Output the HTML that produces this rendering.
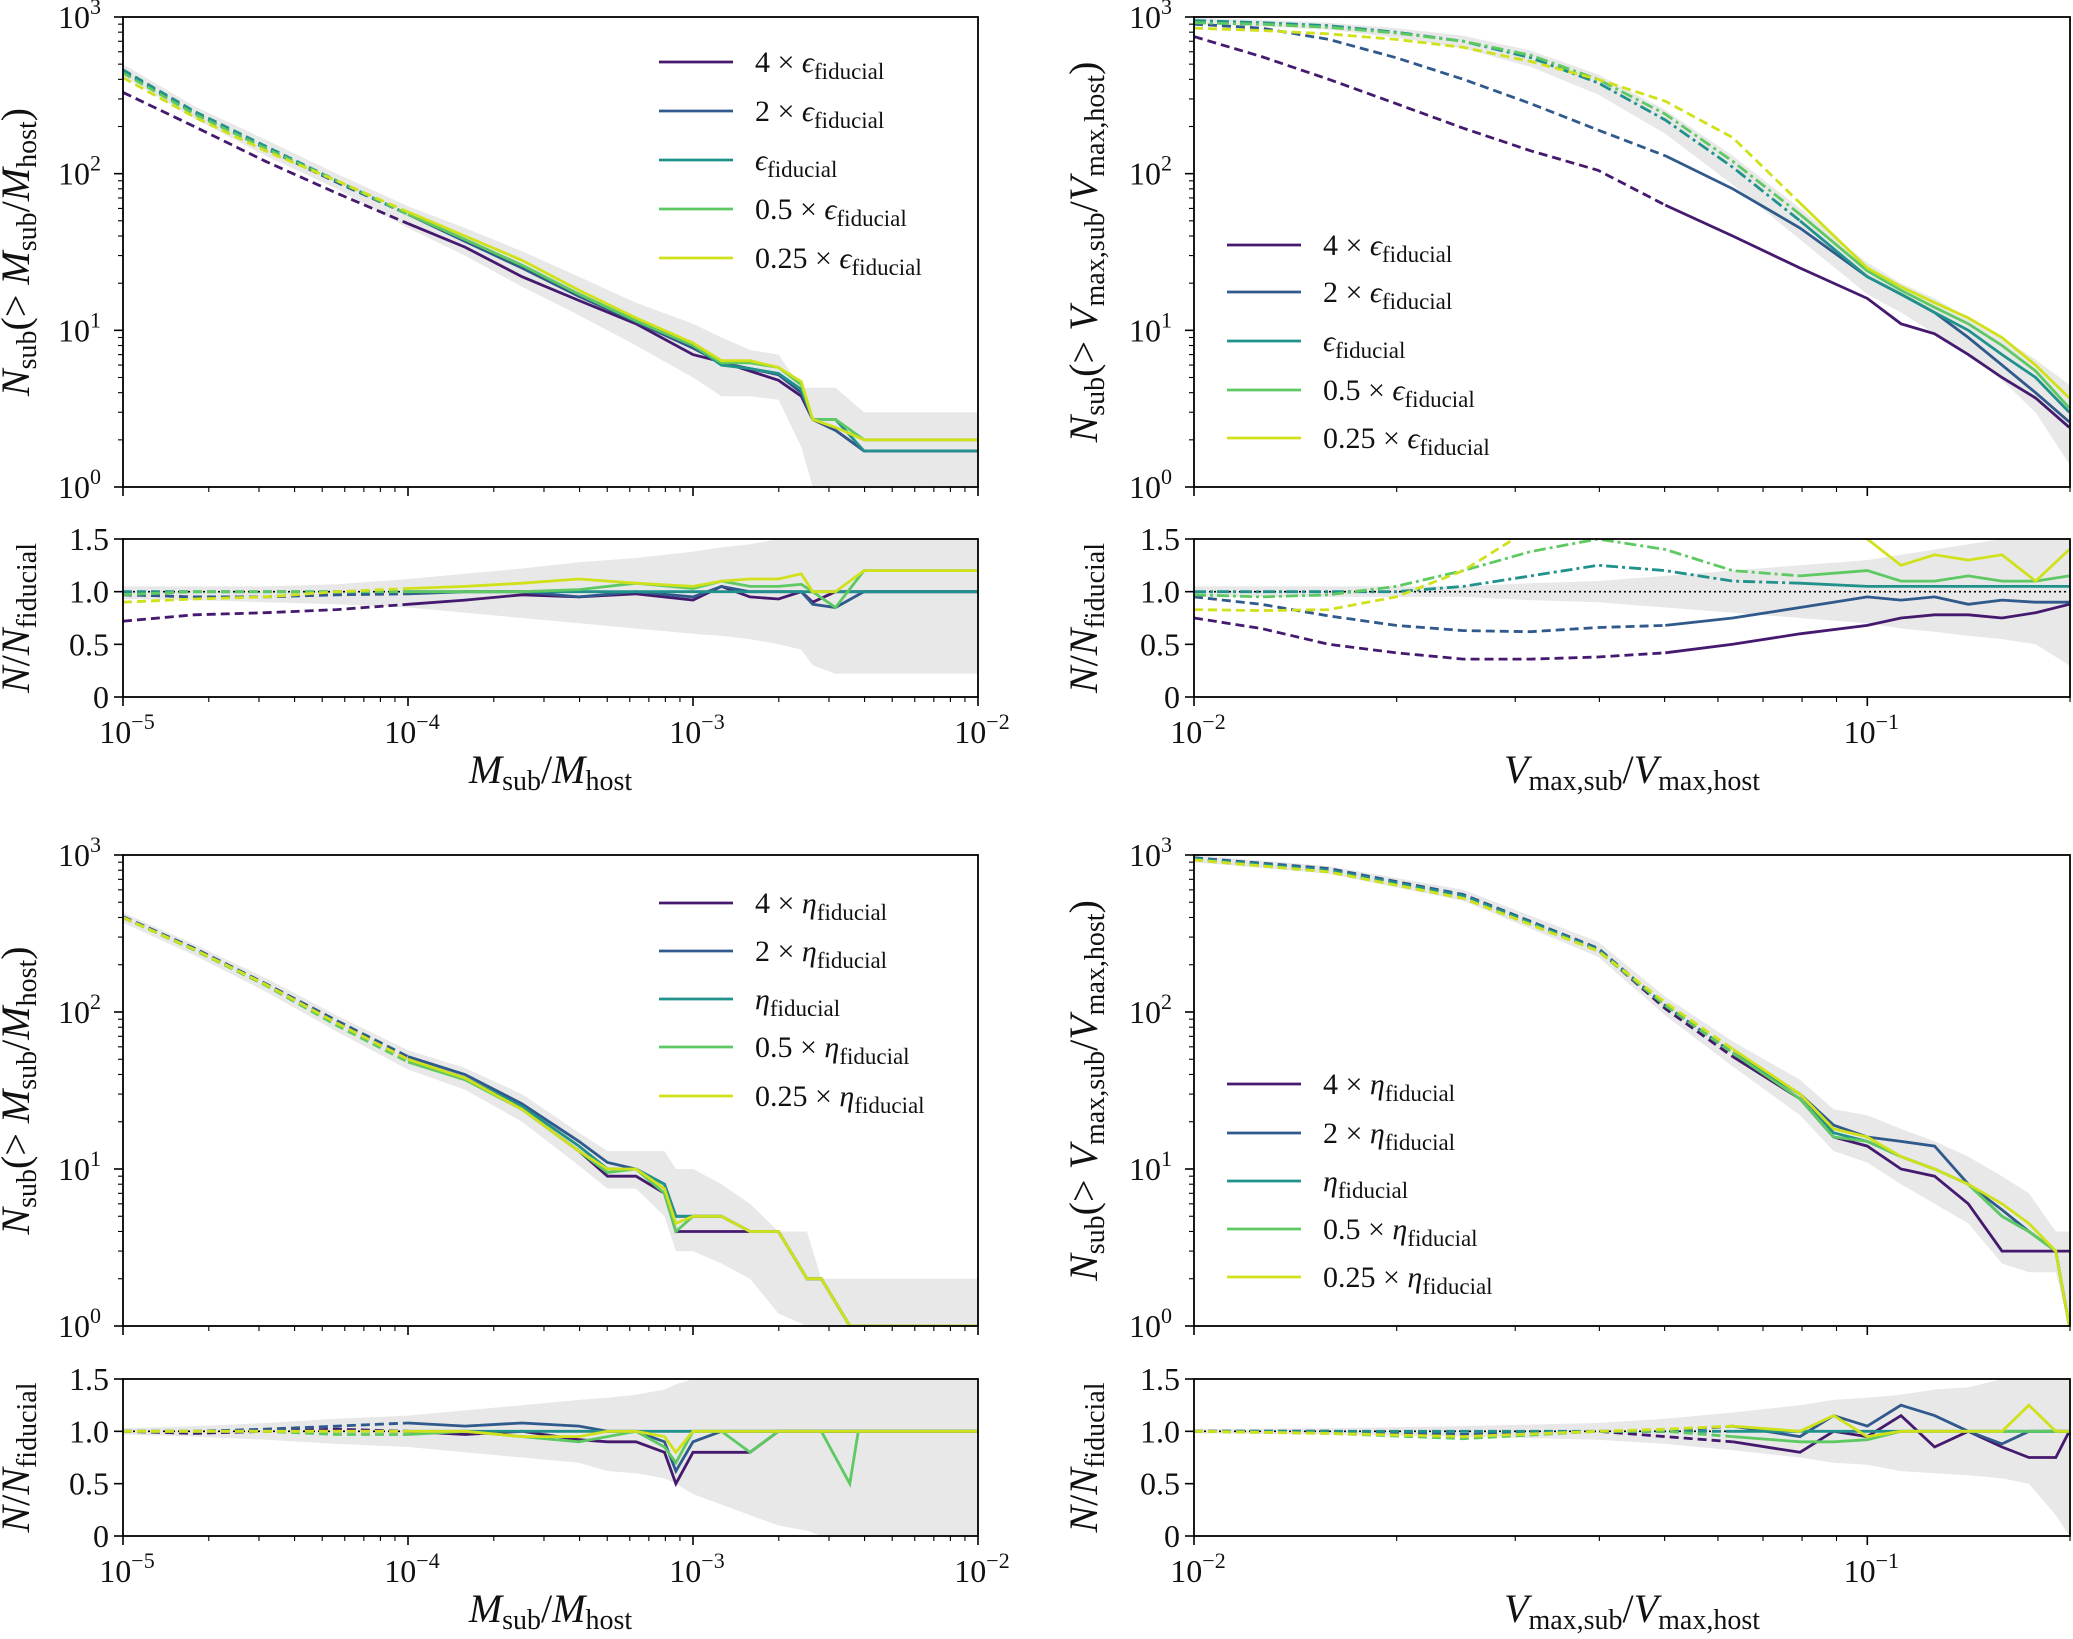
<!DOCTYPE html>
<html><head><meta charset="utf-8"><style>
body{margin:0;background:#fff}
svg{display:block}
text{font-family:"Liberation Serif",serif;fill:#111}
</style></head><body>
<svg id="fig" width="2073" height="1639" viewBox="0 0 2073 1639" xmlns="http://www.w3.org/2000/svg"></svg>
<script>
// ---------- data ----------
const colors = ['#45196e','#30598c','#21918c','#5ec962','#d0e11c'];
const labelsEps = ['4 × ','2 × ','','0.5 × ','0.25 × '];
// Top-left: N(>Msub/Mhost), log10 x
const tlX = [-5,-4.75,-4.5,-4.25,-4,-3.8,-3.6,-3.4,-3.2,-3.0,-2.9,-2.8,-2.7,-2.62,-2.58,-2.5,-2.4,-2.0];
const tl4 = [330,200,120,75,48,34,22,15.5,11,7,6.3,5.5,4.8,3.8,2.7,2.3,1.7,1.7];
const tl2 = [450,245,145,88,55,37,25,16.5,11.3,7.7,6.2,5.7,5.2,4,2.7,2.3,1.7,1.7];
const tlF = [460,250,150,90,55,38,26,17,11.5,8,6,5.7,5.3,4.2,2.7,2.7,1.7,1.7];
const tl05 = [440,240,145,90,55,38,26,17,11.5,8,6.2,6.2,5.8,4.5,2.7,2.7,2,2];
const tl025 = [410,230,140,90,57,40,28,18,12,8.3,6.4,6.4,5.8,4.7,2.7,2.4,2,2];
const tlBandHi = [500,270,165,100,62,45,32,22,15,11,9,7.5,7,4.3,4.3,4.3,3,3];
const tlBandLo = [420,225,130,80,45,30,19,12.5,8,5,3.8,3.8,3.6,1.8,1,0.5,0.5,0.5];
const tlR4 = [0.72,0.78,0.8,0.83,0.88,0.92,0.97,0.95,0.98,0.92,1.05,0.95,0.93,1,0.9,1,1,1];
const tlR2 = [0.97,0.95,0.95,0.97,0.98,1,1,0.95,1,0.95,1.05,1,1,1,0.88,0.85,1,1];
const tlRF = [1,1,1,1,1,1,1,1,1,1,1,1,1,1,1,1,1,1];
const tlR05 = [0.97,1,1,1,1,1,1,1.02,1.08,1.03,1.1,1.05,1.05,1.07,1,0.85,1.2,1.2];
const tlR025 = [0.9,0.93,0.95,1,1.03,1.05,1.08,1.12,1.08,1.05,1.1,1.12,1.12,1.17,1,1,1.2,1.2];
const tlRHi = [1.05,1.05,1.05,1.07,1.12,1.17,1.22,1.28,1.32,1.38,1.42,1.45,1.5,1.5,1.5,1.5,1.5,1.5];
const tlRLo = [0.93,0.92,0.9,0.88,0.85,0.8,0.75,0.7,0.65,0.6,0.58,0.55,0.5,0.45,0.3,0.22,0.22,0.22];
// Top-right: N(>Vmax ratio)
const trX = [-2,-1.9,-1.8,-1.7,-1.6,-1.5,-1.4,-1.3,-1.2,-1.1,-1.0,-0.95,-0.9,-0.85,-0.8,-0.75,-0.7];
const tr4 = [750,560,400,280,195,140,105,63,40,25,16,11,9.5,7,5,3.7,2.4];
const tr2 = [900,850,720,550,400,280,190,130,80,45,22,17,13,9,6,4,2.6];
const trF = [950,920,880,800,700,550,380,220,110,50,22,17,13,10,7,5,3];
const tr05 = [920,900,860,790,700,570,400,240,120,55,24,18,14,11,8,5.5,3.2];
const tr025 = [850,820,780,720,640,520,400,290,170,65,25,19,15,12,9,6,3.7];
const trBandHi = [990,960,920,850,760,610,430,255,130,60,27,20,16,12,9,6.5,4.5];
const trBandLo = [900,870,830,740,630,480,320,180,85,38,17,13,9.5,7,4.8,3,1.4];
const trR4 = [0.75,0.65,0.5,0.42,0.36,0.36,0.38,0.42,0.5,0.6,0.68,0.75,0.78,0.78,0.75,0.8,0.88];
const trR2 = [0.95,0.88,0.77,0.68,0.63,0.62,0.66,0.68,0.75,0.85,0.95,0.92,0.95,0.88,0.92,0.9,0.9];
const trRF = [1,1,1,1,1.05,1.15,1.25,1.2,1.1,1.08,1.05,1.05,1.05,1.05,1.05,1.05,1.05];
const trR05 = [0.97,0.95,0.97,1.05,1.2,1.38,1.5,1.4,1.2,1.15,1.2,1.1,1.1,1.15,1.1,1.1,1.15];
const trR025 = [0.83,0.82,0.83,0.95,1.2,1.6,1.8,1.9,1.8,1.7,1.5,1.25,1.35,1.3,1.35,1.1,1.4];
const trRHi = [1.05,1.05,1.05,1.05,1.05,1.08,1.1,1.15,1.2,1.25,1.3,1.35,1.4,1.45,1.5,1.5,1.5];
const trRLo = [0.95,0.95,0.95,0.95,0.95,0.92,0.9,0.85,0.8,0.75,0.7,0.65,0.62,0.58,0.55,0.5,0.3];
// Bottom-left
const blX = [-5,-4.75,-4.5,-4.25,-4,-3.8,-3.6,-3.4,-3.3,-3.2,-3.1,-3.06,-3.0,-2.9,-2.8,-2.7,-2.6,-2.55,-2.45,-2.42,-2.0];
const bl4 = [400,250,150,85,50,38,24,13,9,9,7,4,4,4,4,4,2,2,1,1,1];
const bl2 = [405,255,152,88,52,40,26,15,11,10,8,5,5,5,4,4,2,2,1,1,1];
const blF = [400,250,150,85,50,38,25,14,10,10,8,5,5,5,4,4,2,2,1,1,1];
const bl05 = [400,248,148,82,48,37,24,13,9.5,10,7,4,5,5,4,4,2,2,1,1,1];
const bl025 = [400,250,150,85,50,38,24,13,10,10,7.5,4.5,5,5,4,4,2,2,1,1,1];
const blBandHi = [430,270,165,95,57,44,30,17,13,13,13,10,10,8,6,4,4,2,2,2,2];
const blBandLo = [370,230,135,75,43,32,20,10.5,7.5,7.5,5,3,3,2.5,2,1.2,1,1,1,1,1];
const blR4 = [1,0.98,1,1.02,1,0.97,1,0.92,0.9,0.9,0.8,0.5,0.8,0.8,0.8,1,1,1,1,1,1];
const blR2 = [1,1,1.02,1.05,1.08,1.05,1.08,1.05,1,1,0.9,0.62,0.9,1,1,1,1,1,1,1,1];
const blRF = [1,1,1,1,1,1,1,1,1,1,1,1,1,1,1,1,1,1,1,1,1];
const blR05 = [1,1,1,0.97,0.97,1,0.95,0.9,0.95,1,0.85,0.7,1,1,0.8,1,1,1,0.5,1,1];
const blR025 = [1,1,1,1,1,1,0.95,0.95,1,1,0.95,0.8,1,1,1,1,1,1,1,1,1];
const blRHi = [1.03,1.05,1.08,1.12,1.15,1.2,1.25,1.3,1.32,1.35,1.4,1.45,1.5,1.5,1.5,1.5,1.5,1.5,1.5,1.5,1.5];
const blRLo = [0.97,0.95,0.92,0.88,0.85,0.8,0.75,0.7,0.62,0.6,0.55,0.5,0.4,0.3,0.2,0.1,0.05,0,0,0,0];
// Bottom-right
const brX = [-2,-1.8,-1.6,-1.4,-1.3,-1.2,-1.1,-1.05,-1.0,-0.95,-0.9,-0.85,-0.8,-0.76,-0.72,-0.7];
const br4 = [950,800,550,250,105,52,28,16,14,10,9,6,3,3,3,3];
const br2 = [960,820,560,255,110,55,30,19,16,15,14,8,5.5,4,3,1];
const brF = [950,800,550,250,110,55,30,17,15,12,10,8,5,4,3,1];
const br05 = [930,780,530,245,110,55,28,16,15,12,10,8,5,4,3,1];
const br025 = [930,780,530,245,115,58,30,18,16,12,10,8,6,4.5,3,1];
const brBandHi = [1000,850,600,280,125,65,37,24,22,18,15,12,9,7,4,4];
const brBandLo = [900,760,510,225,95,45,22,13,11,8,6,4.5,2.5,2.2,2.2,1];
const brR4 = [1,1,0.97,1,0.95,0.9,0.8,1,0.95,1.15,0.85,1,0.85,0.75,0.75,1];
const brR2 = [1,1,0.97,1,1,1.05,0.95,1.15,1.05,1.25,1.15,1,0.88,1,1,1];
const brRF = [1,1,1,1,1,1,1,1,1,1,1,1,1,1,1,1];
const brR05 = [1,0.98,0.93,1,1,0.95,0.9,0.9,0.92,1,1,1,1,1,1,1];
const brR025 = [1,0.98,0.95,1,1.02,1.05,1,1.15,0.95,1,1,1,1,1.25,1,1];
const brRHi = [1.02,1.03,1.05,1.08,1.12,1.18,1.25,1.3,1.32,1.35,1.4,1.42,1.5,1.5,1.5,1.5];
const brRLo = [0.98,0.97,0.95,0.92,0.88,0.82,0.75,0.7,0.68,0.62,0.6,0.58,0.55,0.5,0.2,0];

// ---------- drawing ----------
const NS='http://www.w3.org/2000/svg';
const fig=document.getElementById('fig');
function mk(tag,parent){const e=document.createElementNS(NS,tag);parent.appendChild(e);return e;}

function drawPanel(cfg){
  const g=mk('g',fig);
  
  
  const X=v=>cfg.x0+(v-cfg.xmin)/(cfg.xmax-cfg.xmin)*(cfg.x1-cfg.x0);
  const Ym=v=>cfg.m1-(Math.log10(Math.max(v,1e-3))-0)/3*(cfg.m1-cfg.m0);
  const Yr=v=>cfg.r1-v/1.5*(cfg.r1-cfg.r0);
  ['main','ratio'].forEach(kind=>{
    const y0=kind==='main'?cfg.m0:cfg.r0, y1=kind==='main'?cfg.m1:cfg.r1;
    const Y=kind==='main'?Ym:Yr;
    const cid=cfg.name+'-'+kind+'-clip';
    const cp=mk('clipPath',g);cp.setAttribute('id',cid);
    const cr=mk('rect',cp);cr.setAttribute('x',cfg.x0);cr.setAttribute('y',y0);cr.setAttribute('width',cfg.x1-cfg.x0);cr.setAttribute('height',y1-y0);
    const pg=mk('g',g);pg.setAttribute('clip-path','url(#'+cid+')');
    
    
    const hi=kind==='main'?cfg.bandHi:cfg.rHi, lo=kind==='main'?cfg.bandLo:cfg.rLo;
    let d='';
    cfg.xs.forEach((x,i)=>{d+=(i?'L':'M')+X(x).toFixed(1)+','+Y(hi[i]).toFixed(1);});
    for(let i=cfg.xs.length-1;i>=0;i--){d+='L'+X(cfg.xs[i]).toFixed(1)+','+Y(lo[i]).toFixed(1);}
    const band=mk('path',pg);band.setAttribute('d',d+'Z');band.setAttribute('fill','#e8e8e8');
    
    
    if(kind==='ratio'){
      const ln=mk('line',pg);ln.setAttribute('x1',cfg.x0);ln.setAttribute('x2',cfg.x1);ln.setAttribute('y1',Yr(1));ln.setAttribute('y2',Yr(1));
      ln.setAttribute('stroke','#000');ln.setAttribute('stroke-width','1.6');ln.setAttribute('stroke-dasharray','2,3');
      
      
    }
    const sers=kind==='main'?cfg.series:cfg.ratios;
    sers.forEach((s,si)=>{
      let dd='',ds='';
      const xs=cfg.xs;
      xs.forEach((x,i)=>{const p=X(x).toFixed(1)+','+Y(s[i]).toFixed(1);
        if(x<=cfg.cut[si]) dd+=(dd?'L':'M')+p;
        if(x>=cfg.cut[si]) ds+=(ds?'L':'M')+p;});
      if(dd){const p=mk('path',pg);p.setAttribute('d',dd);p.setAttribute('fill','none');p.setAttribute('stroke',colors[si]);p.setAttribute('stroke-width','2.8');
        p.setAttribute('stroke-dasharray',cfg.dashdot&&cfg.dashdot[si]?'12,4,3,4':'9,5');
        
        }
      if(ds){const p=mk('path',pg);p.setAttribute('d',ds);p.setAttribute('fill','none');p.setAttribute('stroke',colors[si]);p.setAttribute('stroke-width','2.8');
        
        }
    });
    const fr=mk('rect',g);fr.setAttribute('x',cfg.x0);fr.setAttribute('y',y0);fr.setAttribute('width',cfg.x1-cfg.x0);fr.setAttribute('height',y1-y0);
    fr.setAttribute('fill','none');fr.setAttribute('stroke','#000');fr.setAttribute('stroke-width','1.8');
    
    
    for(let dec=Math.floor(cfg.xmin);dec<=Math.ceil(cfg.xmax);dec++){
      for(let m=1;m<10;m++){const lv=dec+Math.log10(m);if(lv<cfg.xmin-1e-6||lv>cfg.xmax+1e-6)continue;
        const t=mk('line',g);t.setAttribute('x1',X(lv));t.setAttribute('x2',X(lv));t.setAttribute('y1',y1);t.setAttribute('y2',y1+(m===1?9:5));
        t.setAttribute('stroke','#000');t.setAttribute('stroke-width',m===1?1.6:1.1);}
    }
    if(kind==='main'){
      for(let dec=0;dec<=3;dec++){
        for(let m=1;m<10;m++){const lv=dec+Math.log10(m);if(lv>3.0001)continue;
          const yy=cfg.m1-lv/3*(cfg.m1-cfg.m0);
          const t=mk('line',g);t.setAttribute('x1',cfg.x0-(m===1?9:5));t.setAttribute('x2',cfg.x0);t.setAttribute('y1',yy);t.setAttribute('y2',yy);
          t.setAttribute('stroke','#000');t.setAttribute('stroke-width',m===1?1.6:1.1);}
        const tx=mk('text',g);tx.setAttribute('x',cfg.x0-22);tx.setAttribute('y',cfg.m1-dec/3*(cfg.m1-cfg.m0)+11);tx.setAttribute('text-anchor','end');tx.setAttribute('font-size','32');
        
        
        tx.innerHTML='10<tspan font-size="22" dy="-14">'+dec+'</tspan>';
      }
    } else {
      cfg.rTicks.forEach((v,i)=>{const yy=Yr(v);
        const t=mk('line',g);t.setAttribute('x1',cfg.x0-9);t.setAttribute('x2',cfg.x0);t.setAttribute('y1',yy);t.setAttribute('y2',yy);t.setAttribute('stroke','#000');t.setAttribute('stroke-width',1.6);
        const tx=mk('text',g);tx.setAttribute('x',cfg.x0-14);tx.setAttribute('y',yy+11);tx.setAttribute('text-anchor','end');tx.setAttribute('font-size','32');tx.textContent=cfg.rTickLabels[i];
        
        
      });
      for(let dec=Math.ceil(cfg.xmin);dec<=Math.floor(cfg.xmax);dec++){
        const tx=mk('text',g);tx.setAttribute('x',X(dec)+4);tx.setAttribute('y',cfg.r1+46);tx.setAttribute('text-anchor','middle');tx.setAttribute('font-size','32');
        
        
        tx.innerHTML='10<tspan font-size="22" dy="-14">−'+(-dec)+'</tspan>';
      }
    }
  });
  const yl=mk('text',g);yl.setAttribute('transform','translate('+(cfg.x0-cfg.ylOff)+','+((cfg.m0+cfg.m1)/2)+') rotate(-90)');
  yl.setAttribute('text-anchor','middle');yl.setAttribute('font-size','40');
  
  
  yl.innerHTML=cfg.yLabel;
  const rl=mk('text',g);rl.setAttribute('transform','translate('+(cfg.x0-cfg.ylOff)+','+((cfg.r0+cfg.r1)/2)+') rotate(-90)');
  rl.setAttribute('text-anchor','middle');rl.setAttribute('font-size','40');
  
  
  rl.innerHTML='<tspan font-style="italic">N</tspan>/<tspan font-style="italic">N</tspan><tspan font-size="28" dy="7">fiducial</tspan>';
  const xl=mk('text',g);xl.setAttribute('x',(cfg.x0+cfg.x1)/2);xl.setAttribute('y',cfg.r1+86);xl.setAttribute('text-anchor','middle');xl.setAttribute('font-size','40');
  
  
  xl.innerHTML=cfg.xLabel;
  const lg=mk('g',g);
  
  
  cfg.legY.forEach((yy,i)=>{
    const l=mk('line',lg);l.setAttribute('x1',cfg.legX);l.setAttribute('x2',cfg.legX+74);l.setAttribute('y1',yy);l.setAttribute('y2',yy);l.setAttribute('stroke',colors[i]);l.setAttribute('stroke-width','2.8');
    
    
    const t=mk('text',lg);t.setAttribute('x',cfg.legX+96);t.setAttribute('y',yy+10);t.setAttribute('font-size','30');
    
    
    t.innerHTML=labelsEps[i]+'<tspan font-style="italic">'+cfg.sym+'</tspan><tspan font-size="23" dy="7">fiducial</tspan>';
  });
}
const mLab='<tspan font-style="italic">N</tspan><tspan font-size="28" dy="7">sub</tspan><tspan dy="-7">(&gt; </tspan><tspan font-style="italic">M</tspan><tspan font-size="28" dy="7">sub</tspan><tspan dy="-7">/</tspan><tspan font-style="italic">M</tspan><tspan font-size="28" dy="7">host</tspan><tspan dy="-7">)</tspan>';
const vLab='<tspan font-style="italic">N</tspan><tspan font-size="28" dy="7">sub</tspan><tspan dy="-7">(&gt; </tspan><tspan font-style="italic">V</tspan><tspan font-size="28" dy="7">max,sub</tspan><tspan dy="-7">/</tspan><tspan font-style="italic">V</tspan><tspan font-size="28" dy="7">max,host</tspan><tspan dy="-7">)</tspan>';
const mX='<tspan font-style="italic">M</tspan><tspan font-size="28" dy="7">sub</tspan><tspan dy="-7">/</tspan><tspan font-style="italic">M</tspan><tspan font-size="28" dy="7">host</tspan>';
const vX='<tspan font-style="italic">V</tspan><tspan font-size="28" dy="7">max,sub</tspan><tspan dy="-7">/</tspan><tspan font-style="italic">V</tspan><tspan font-size="28" dy="7">max,host</tspan>';
const rTicks=[0,0.5,1.0,1.5], rTickLabels=['0','0.5','1.0','1.5'];
const L={x0:123,x1:978,xmin:-5,xmax:-2,ylOff:94,rTicks,rTickLabels,yLabel:mLab,xLabel:mX,legX:659};
const R={x0:1194,x1:2070,xmin:-2,xmax:Math.log10(0.2),ylOff:97,rTicks,rTickLabels,yLabel:vLab,xLabel:vX,legX:1227};
drawPanel(Object.assign({},L,{name:'panel-mass-eps',m0:17,m1:487,r0:539,r1:697,xs:tlX,series:[tl4,tl2,tlF,tl05,tl025],ratios:[tlR4,tlR2,tlRF,tlR05,tlR025],bandHi:tlBandHi,bandLo:tlBandLo,rHi:tlRHi,rLo:tlRLo,cut:[-4,-4,-4,-4,-4],sym:'ϵ',legY:[62,111,160,209,258]}));
drawPanel(Object.assign({},R,{name:'panel-vmax-eps',m0:17,m1:487,r0:539,r1:697,xs:trX,series:[tr4,tr2,trF,tr05,tr025],ratios:[trR4,trR2,trRF,trR05,trR025],bandHi:trBandHi,bandLo:trBandLo,rHi:trRHi,rLo:trRLo,cut:[-1.3,-1.3,-1.1,-1.1,-1.1],dashdot:[0,0,1,1,0],sym:'ϵ',legY:[245,292,341,390,438]}));
drawPanel(Object.assign({},L,{name:'panel-mass-eta',m0:855,m1:1326,r0:1379,r1:1536,xs:blX,series:[bl4,bl2,blF,bl05,bl025],ratios:[blR4,blR2,blRF,blR05,blR025],bandHi:blBandHi,bandLo:blBandLo,rHi:blRHi,rLo:blRLo,cut:[-4,-4,-4,-4,-4],sym:'η',legY:[903,951,999,1047,1096]}));
drawPanel(Object.assign({},R,{name:'panel-vmax-eta',m0:855,m1:1326,r0:1379,r1:1536,xs:brX,series:[br4,br2,brF,br05,br025],ratios:[brR4,brR2,brRF,brR05,brR025],bandHi:brBandHi,bandLo:brBandLo,rHi:brRHi,rLo:brRLo,cut:[-1.2,-1.2,-1.2,-1.2,-1.2],sym:'η',legY:[1084,1133,1181,1229,1277]}));
</script>
</body></html>
